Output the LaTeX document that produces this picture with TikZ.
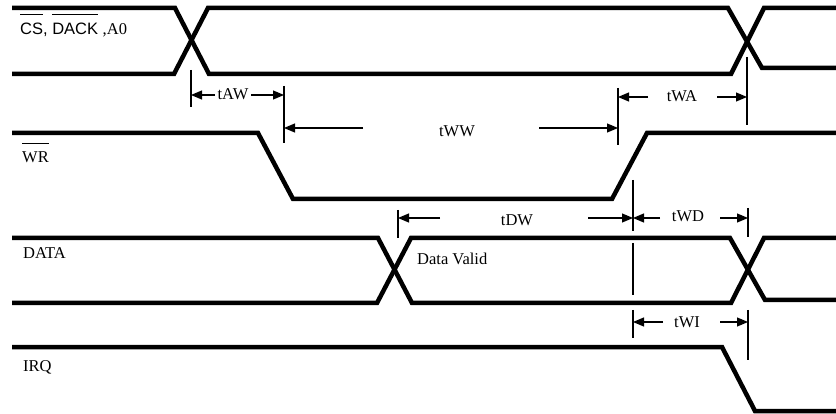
\documentclass[tikz,border=0pt]{standalone}
\usepackage{fontspec}
\setmainfont{Liberation Serif}
\newfontfamily\arialfont{Liberation Sans}
\usetikzlibrary{arrows.meta}
\newsavebox{\ovbox}
\newcommand{\ovbar}[2][1.22em]{\sbox{\ovbox}{#2}\rlap{\rule[#1]{\wd\ovbox}{1.1pt}}\usebox{\ovbox}}
\begin{document}
\begin{tikzpicture}[x=1pt,y=-1pt,
  sig/.style={line width=4.5pt,line join=miter},
  dim/.style={line width=1.2pt},
  arr/.style={line width=1.2pt,-{Triangle[length=11pt,width=9pt]}},
  lbl/.style={inner sep=0pt,font=\fontsize{16.5}{18}\selectfont}]
\useasboundingbox (0,0) rectangle (836,414);
% signals
\draw[sig] (12,8) -- (175,8) -- (209,74) -- (731,74) -- (764,8) -- (836,8);
\draw[sig] (12,74) -- (174,74) -- (208,8) -- (728,8) -- (762,68) -- (836,68);
\draw[sig] (12,133) -- (258,133) -- (293,199) -- (612,199) -- (647,133) -- (836,133);
\draw[sig] (12,238) -- (378,238) -- (412,303) -- (731,303) -- (764,238) -- (836,238);
\draw[sig] (12,303) -- (377,303) -- (411,238) -- (730,238) -- (765,300) -- (836,300);
\draw[sig] (12,347) -- (722,347) -- (755,411) -- (836,411);
% signal labels
\node[lbl,anchor=base west] (cs) at (20,35) {{\arialfont\ovbar{CS}, \ovbar{DACK}\ },A0};
\node[lbl,anchor=base west] (wr) at (22,163) {\ovbar[1.15em]{WR}};
\node[lbl,anchor=base west] (data) at (23,259) {DATA};
\node[lbl,anchor=base west] (irq) at (23,371) {IRQ};
\node[lbl,anchor=base west] (valid) at (417,265) {Data Valid};
% ticks
\draw[dim] (191,70) -- (191,107);
\draw[dim] (284,86) -- (284,143);
\draw[dim] (618,88) -- (618,145);
\draw[dim] (747,57) -- (747,125);
\draw[dim] (398,210) -- (398,238);
\draw[dim] (633,180) -- (633,231);
\draw[dim] (633,243) -- (633,295);
\draw[dim] (748,208) -- (748,237);
\draw[dim] (633,310) -- (633,338);
\draw[dim] (748,310) -- (748,360);
% timing labels
\node[lbl,anchor=base] (tAW) at (233,100) {tAW};
\node[lbl,anchor=base] (tWW) at (457,137) {tWW};
\node[lbl,anchor=base] (tWA) at (682,102) {tWA};
\node[lbl,anchor=base] (tDW) at (517,226) {tDW};
\node[lbl,anchor=base] (tWD) at (688,222) {tWD};
\node[lbl,anchor=base] (tWI) at (687,327) {tWI};
% arrows
\coordinate (aw1) at (215,95); \coordinate (aw1t) at (191,95);
\coordinate (aw2) at (251,95); \coordinate (aw2t) at (284,95);
\draw[arr] (aw1) -- (aw1t); \draw[arr] (aw2) -- (aw2t);
\coordinate (ww1) at (363,128); \coordinate (ww1t) at (284,128);
\coordinate (ww2) at (539,128); \coordinate (ww2t) at (618,128);
\draw[arr] (ww1) -- (ww1t); \draw[arr] (ww2) -- (ww2t);
\coordinate (wa1) at (648,97); \coordinate (wa1t) at (618,97);
\coordinate (wa2) at (717,97); \coordinate (wa2t) at (747,97);
\draw[arr] (wa1) -- (wa1t); \draw[arr] (wa2) -- (wa2t);
\coordinate (dw1) at (440,218); \coordinate (dw1t) at (398,218);
\coordinate (dw2) at (588,218); \coordinate (dw2t) at (633,218);
\draw[arr] (dw1) -- (dw1t); \draw[arr] (dw2) -- (dw2t);
\coordinate (wd1) at (660,218); \coordinate (wd1t) at (633,218);
\coordinate (wd2) at (720,218); \coordinate (wd2t) at (748,218);
\draw[arr] (wd1) -- (wd1t); \draw[arr] (wd2) -- (wd2t);
\coordinate (wi1) at (663,322); \coordinate (wi1t) at (633,322);
\coordinate (wi2) at (720,322); \coordinate (wi2t) at (748,322);
\draw[arr] (wi1) -- (wi1t); \draw[arr] (wi2) -- (wi2t);
\end{tikzpicture}
\end{document}
